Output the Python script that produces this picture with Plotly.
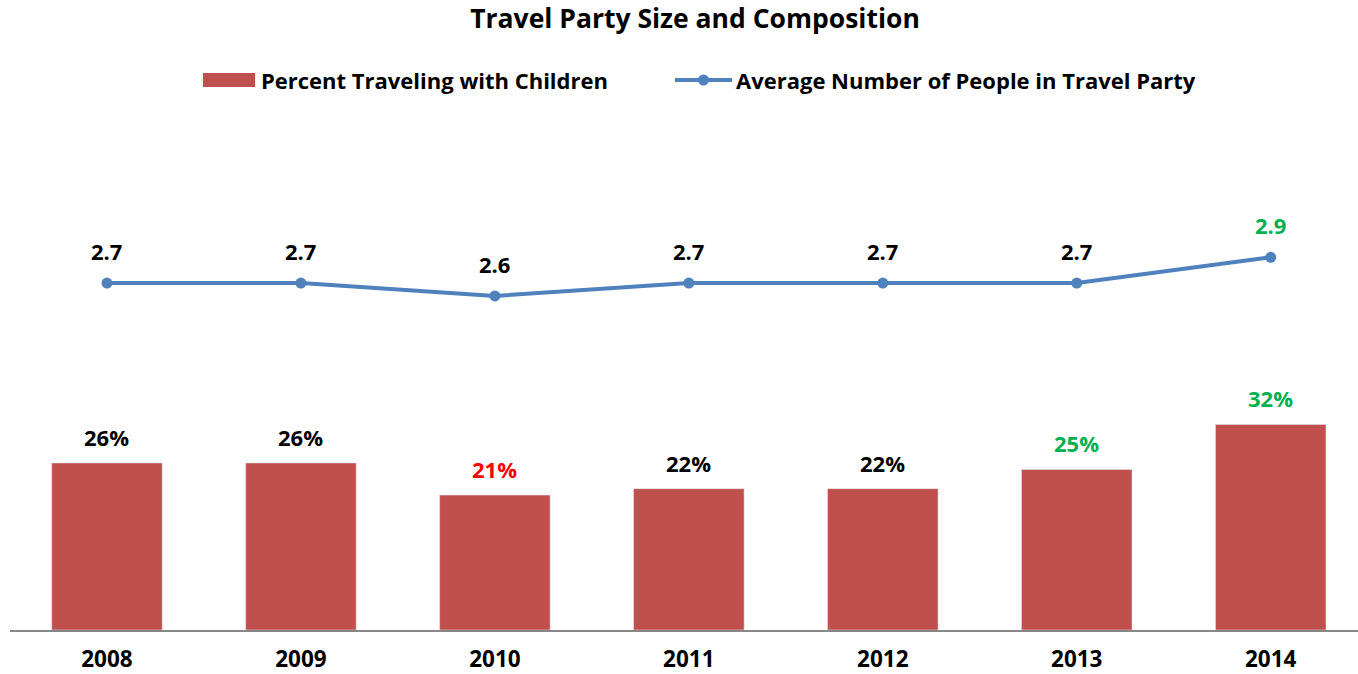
import plotly.graph_objects as go

years = ["2008", "2009", "2010", "2011", "2012", "2013", "2014"]
pct_children = [0.26, 0.26, 0.21, 0.22, 0.22, 0.25, 0.32]
avg_party = [2.7, 2.7, 2.6, 2.7, 2.7, 2.7, 2.9]
pct_label_colors = ["#000000", "#000000", "#FF0000", "#000000", "#000000", "#00B050", "#00B050"]
avg_label_colors = ["#000000", "#000000", "#000000", "#000000", "#000000", "#000000", "#00B050"]

FONT = "Open Sans"
BAR_COLOR = "#C0504D"
LINE_COLOR = "#4F81BD"
W, H = 1358, 674
TOP, BOT = 116, 630  # plot area in pixels
LEFT, RIGHT = 10, 1358

fig = go.Figure()
fig.add_trace(go.Bar(x=years, y=pct_children, marker_color=BAR_COLOR, width=0.57,
                     name="Percent Traveling with Children", showlegend=False))
fig.add_trace(go.Scatter(x=years, y=avg_party, yaxis="y2", mode="lines+markers",
                         line=dict(color=LINE_COLOR, width=4), marker=dict(size=11, color=LINE_COLOR),
                         name="Average Number of People in Travel Party", showlegend=False))

def pxp(x): return (x - LEFT) / (RIGHT - LEFT)
def pyp(y): return (BOT - y) / (BOT - TOP)

annotations = []
for i, (v, c) in enumerate(zip(pct_children, pct_label_colors)):
    annotations.append(dict(x=i, y=v, xref="x", yref="y", text=f"<b>{round(v*100)}%</b>", showarrow=False,
                            yshift=26, font=dict(family=FONT, size=22, color=c)))
for i, (v, c) in enumerate(zip(avg_party, avg_label_colors)):
    annotations.append(dict(x=i, y=v, xref="x", yref="y2", text=f"<b>{v:.1f}</b>", showarrow=False,
                            yshift=32, font=dict(family=FONT, size=22, color=c)))
annotations.append(dict(xref="paper", yref="paper", x=pxp(259), y=pyp(80), xanchor="left", yanchor="middle",
                        text="<b>Percent Traveling with Children</b>", showarrow=False,
                        font=dict(family=FONT, size=22, color="#000000")))
annotations.append(dict(xref="paper", yref="paper", x=pxp(734), y=pyp(80), xanchor="left", yanchor="middle",
                        text="<b>Average Number of People in Travel Party</b>", showarrow=False,
                        font=dict(family=FONT, size=22, color="#000000")))

shapes = [
    dict(type="rect", xref="paper", yref="paper", x0=pxp(203), x1=pxp(255), y0=pyp(87), y1=pyp(73),
         fillcolor=BAR_COLOR, line=dict(width=0)),
    dict(type="line", xref="paper", yref="paper", x0=pxp(675), x1=pxp(732), y0=pyp(80), y1=pyp(80),
         line=dict(color=LINE_COLOR, width=4)),
    dict(type="circle", xref="paper", yref="paper", x0=pxp(698), x1=pxp(709), y0=pyp(85.5), y1=pyp(74.5),
         fillcolor=LINE_COLOR, line=dict(width=0)),
]

fig.update_layout(
    width=W, height=H,
    margin=dict(l=LEFT, r=W - RIGHT, t=TOP, b=H - BOT, autoexpand=False),
    paper_bgcolor="white", plot_bgcolor="white",
    title=dict(text="<b>Travel Party Size and Composition</b>", x=695 / W, xanchor="center",
               y=1 - 19 / H, yanchor="middle", font=dict(family=FONT, size=26.5, color="#000000")),
    xaxis=dict(type="category", range=[-0.5, 6.45], showgrid=False, showline=True,
               linecolor="#888888", linewidth=2, automargin=False,
               ticks="outside", ticklen=8, tickcolor="rgba(0,0,0,0)",
               tickprefix="<b>", ticksuffix="</b>",
               tickfont=dict(family=FONT, size=22.5, color="#000000"), fixedrange=True),
    yaxis=dict(range=[0, 0.8], visible=False, showgrid=False, zeroline=False),
    yaxis2=dict(range=[0, 4], overlaying="y", side="right", visible=False, showgrid=False, zeroline=False),
    annotations=annotations,
    shapes=shapes,
    showlegend=False,
)

fig.write_html("out.html")
